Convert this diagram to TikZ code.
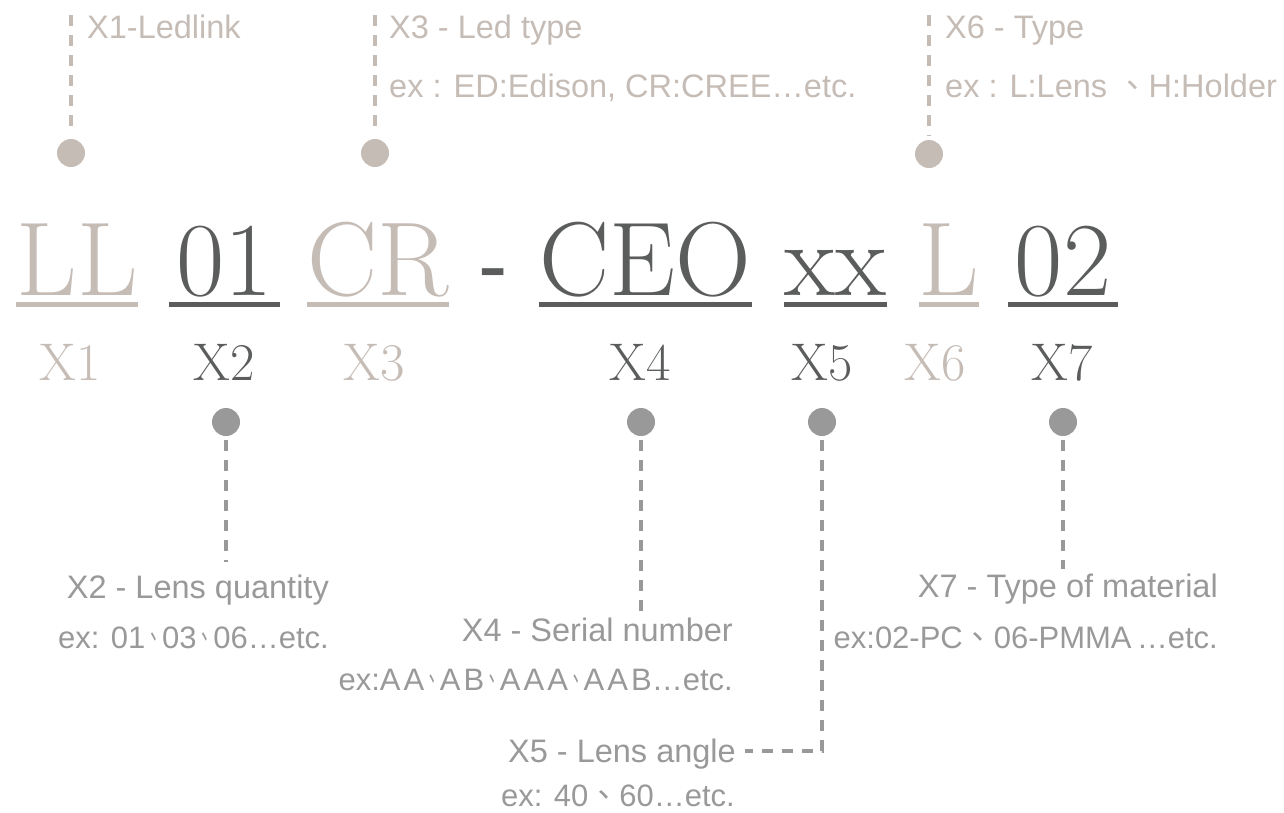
\documentclass[tikz,border=0pt]{standalone}
\usepackage{fontspec}
\usepackage{graphicx}
\newfontfamily\descfont{Liberation Sans}
\newfontfamily\cjk{Noto Sans CJK TC}
\definecolor{light}{HTML}{C6BCB6}
\definecolor{dark}{HTML}{5B5D5C}
\definecolor{mid}{HTML}{999999}
\newcommand\dun[1]{\scalebox{#1}[1]{\cjk 、}}

\begin{document}
\begin{tikzpicture}[x=1pt, y=-1pt,
	part/.style={inner sep=0pt, anchor=base, font=\fontsize{105}{110}\selectfont},
	partlabel/.style={inner sep=0pt, anchor=base, font=\fontsize{53}{56}\selectfont},
	desc/.style={inner sep=0pt, font=\descfont\fontsize{32.5}{36}\selectfont},
	example/.style={inner sep=0pt, font=\descfont\fontsize{31}{34}\selectfont},
	blob/.style={circle, inner sep=0pt, minimum size=28pt},
	lead/.style={line width=3.2pt, dash pattern=on 11pt off 9pt},
	uline/.style={line width=5pt}]
	\useasboundingbox (0,0) rectangle (1284,812);

	\node[part, light] (ll) at (77,295) {LL};
	\node[part, dark, minimum width=110pt] (n01) at (224.5,295) {01};
	\node[part, light] (cr) at (378,295) {CR};
	\node[inner sep=0pt, anchor=base, dark, font=\descfont\fontsize{88}{90}\selectfont] (hy) at (493,295) {-};
	\node[part, dark] (ceo) at (645.5,295) {CEO};
	\node[part, dark] (xx) at (835.5,295) {xx};
	\node[part, light] (l) at (949,295) {L};
	\node[part, dark, minimum width=110pt] (n02) at (1063,295) {02};
	\foreach \t/\c in {ll/light, n01/dark, cr/light, ceo/dark, xx/dark, l/light, n02/dark}
		\draw[uline, \c] ([yshift=-9.5pt]\t.base west) -- ([yshift=-9.5pt]\t.base east);

	\node[partlabel, light] (x1) at (70,380) {X1};
	\node[partlabel, dark] (x2) at (224,380) {X2};
	\node[partlabel, light] (x3) at (374,380) {X3};
	\node[partlabel, dark] (x4) at (640,380) {X4};
	\node[partlabel, dark] (x5) at (822,380) {X5};
	\node[partlabel, light] (x6) at (935,380) {X6};
	\node[partlabel, dark] (x7) at (1062,380) {X7};

	\node[blob, fill=light] (p1) at (71,153) {};
	\node[blob, fill=light] (p3) at (375,153) {};
	\node[blob, fill=light] (p6) at (929,154) {};
	\node[blob, fill=mid] (q2) at (226,422) {};
	\node[blob, fill=mid] (q4) at (641,422) {};
	\node[blob, fill=mid] (q5) at (822,422) {};
	\node[blob, fill=mid] (q7) at (1063,422) {};

	\coordinate (u1) at (71,15);
	\coordinate (u3) at (375,15);
	\coordinate (u6) at (929,15);
	\coordinate (v2) at (226,562);
	\coordinate (v4) at (641,613);
	\coordinate (k5) at (822,751);
	\coordinate (v7) at (1063,569);

	\node[desc, light, anchor=base west] (t1) at (87,38) {X1-Ledlink};
	\node[desc, light, anchor=base west] (t3) at (389,38) {X3 - Led type};
	\node[desc, light, anchor=base west] (e3) at (389,97) {ex : ED:Edison, CR:CREE…etc.};
	\node[desc, light, anchor=base west] (t6) at (945,38) {X6 - Type};
	\node[desc, light, anchor=base west] (e6) at (945,97) {ex : L:Lens {\cjk 、}H:Holder};

	\node[desc, mid, anchor=base east] (t2) at (329,598) {X2 - Lens quantity};
	\node[example, mid, anchor=base east] (e2) at (329,648) {ex: 01\dun{0.54}03\dun{0.54}06…etc.};
	\node[desc, mid, anchor=base east] (t4) at (733,641) {X4 - Serial number};
	\node[example, mid, anchor=base east] (e4) at (733,690) {ex:{\addfontfeature{LetterSpace=10}AA\dun{0.5}AB\dun{0.5}AAA\dun{0.5}AAB}…etc.};
	\node[desc, mid, anchor=base east] (t5) at (736,762) {X5 - Lens angle};
	\node[example, mid, anchor=base east] (e5) at (735,806) {ex: 40{\cjk 、}60…etc.};
	\node[desc, mid, anchor=base east] (t7) at (1218,597) {X7 - Type of material};
	\node[example, mid, anchor=base east] (e7) at (1218,648) {ex:02-PC{\cjk 、}06-PMMA\,…etc.};

	\draw[lead, light, shorten >=4pt] (u1) -- (p1);
	\draw[lead, light, shorten >=4pt] (u3) -- (p3);
	\draw[lead, light, shorten >=4pt] (u6) -- (p6);
	\draw[lead, mid, shorten <=4pt] (q2) -- (v2);
	\draw[lead, mid, shorten <=4pt] (q4) -- (v4);
	\draw[lead, mid, shorten <=4pt, shorten >=9pt] (q5) -- (k5) -- (k5 -| t5.east);
	\draw[lead, mid, shorten <=4pt] (q7) -- (v7);
\end{tikzpicture}
\end{document}
